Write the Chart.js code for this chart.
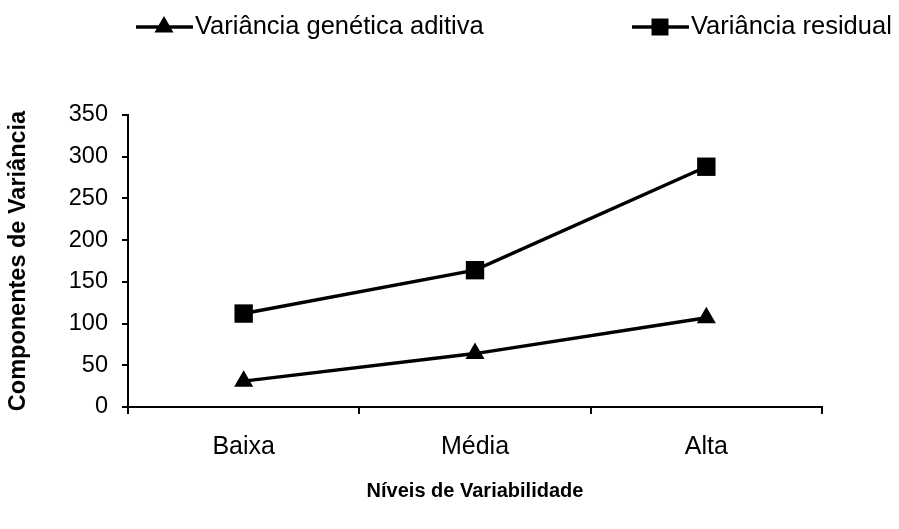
<!DOCTYPE html>
<html>
<head>
<meta charset="utf-8">
<script src="https://cdn.jsdelivr.net/npm/chart.js@4"></script>
<style>
  html, body { margin: 0; padding: 0; background: #fff; }
  #wrap { width: 899px; height: 529px; }
</style>
</head>
<body>
<div id="wrap"><canvas id="chart" width="899" height="529"></canvas></div>
<script>
// data
const categories = ['Baixa', 'Média', 'Alta'];
const aditiva = [31, 64, 107];
const residual = [112, 164, 288];
const yTicks = [0, 50, 100, 150, 200, 250, 300, 350];

const FONT = "'Liberation Sans', Arial, sans-serif";

// legend drawn by hand so the two items sit where they do in the original
const legendPlugin = {
  id: 'sideLegend',
  afterDraw(chart) {
    const ctx = chart.ctx;
    const items = [
      { x: 136, text: 'Variância genética aditiva', style: 'triangle' },
      { x: 632, text: 'Variância residual', style: 'rect' }
    ];
    const y = 27;
    ctx.save();
    items.forEach(it => {
      ctx.strokeStyle = '#000';
      ctx.lineWidth = 3.5;
      ctx.beginPath();
      ctx.moveTo(it.x, y);
      ctx.lineTo(it.x + 57, y);
      ctx.stroke();
      ctx.fillStyle = '#000';
      Chart.helpers.drawPoint(ctx, { pointStyle: it.style, radius: it.style === 'rect' ? 12 : 11, borderWidth: 0 }, it.x + 28, y);
      ctx.font = '25.5px ' + FONT;
      ctx.textBaseline = 'middle';
      ctx.fillText(it.text, it.x + 59, y);
    });
    ctx.restore();
  }
};

const ctx = document.getElementById('chart').getContext('2d');

new Chart(ctx, {
  type: 'line',
  data: {
    labels: categories,
    datasets: [
      {
        label: 'Variância genética aditiva',
        data: aditiva,
        borderColor: '#000',
        backgroundColor: '#000',
        borderWidth: 3.5,
        pointStyle: 'triangle',
        pointRadius: 11,
        pointBorderWidth: 0,
        tension: 0
      },
      {
        label: 'Variância residual',
        data: residual,
        borderColor: '#000',
        backgroundColor: '#000',
        borderWidth: 3.5,
        pointStyle: 'rect',
        pointRadius: 13,
        pointBorderWidth: 0,
        tension: 0
      }
    ]
  },
  options: {
    responsive: false,
    animation: false,
    layout: { padding: { top: 115, right: 77, bottom: 0, left: 0 } },
    plugins: {
      legend: { display: false },
      tooltip: { enabled: false }
    },
    scales: {
      x: {
        offset: true,
        grid: {
          offset: true,
          drawOnChartArea: false,
          color: '#000',
          lineWidth: 2,
          tickLength: 7
        },
        border: { color: '#000', width: 2 },
        ticks: { color: '#000', font: { family: FONT, size: 25 }, padding: 18 },
        title: {
          display: true,
          text: 'Níveis de Variabilidade',
          color: '#000',
          font: { family: FONT, size: 20, weight: 'bold' },
          padding: { top: 0, bottom: 26 }
        },
        afterFit(scale) { scale.height = 529 - 407; }
      },
      y: {
        min: 0,
        max: 350,
        afterBuildTicks(scale) { scale.ticks = yTicks.map(v => ({ value: v })); },
        grid: {
          drawOnChartArea: false,
          color: '#000',
          lineWidth: 2,
          tickLength: 6
        },
        border: { color: '#000', width: 2 },
        ticks: { color: '#000', font: { family: FONT, size: 23.5 }, padding: 14 },
        title: {
          display: true,
          text: 'Componentes de Variância',
          color: '#000',
          font: { family: FONT, size: 23.5, weight: 'bold' },
          padding: { top: 4, bottom: 0 }
        },
        afterFit(scale) { scale.width = 128; }
      }
    }
  },
  plugins: [legendPlugin]
});
</script>
</body>
</html>
